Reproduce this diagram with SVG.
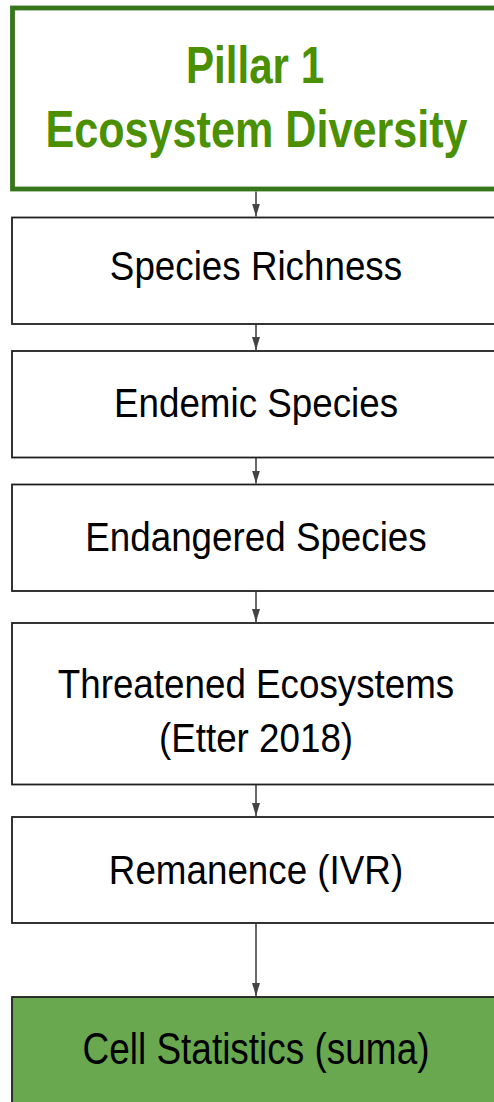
<svg xmlns="http://www.w3.org/2000/svg" width="494" height="1102" viewBox="0 0 494 1102">
<style>
.box{fill:#ffffff;stroke:#1f1f1f;stroke-width:1.8}
.lbl{font-family:"Liberation Sans",Arial,sans-serif;font-size:41px;fill:#000000;text-anchor:middle}
.ttl{font-family:"Liberation Sans",Arial,sans-serif;font-size:52px;font-weight:bold;fill:#4a9000;text-anchor:middle}
.conn{stroke:#444444;stroke-width:1.6;fill:none}
</style>
<defs>
<marker id="arr" viewBox="0 0 13 8" refX="13" refY="4" markerWidth="13" markerHeight="8" markerUnits="userSpaceOnUse" orient="auto">
<path d="M0,0 L13,4 L0,8 Z" fill="#444444"/>
</marker>
</defs>
<rect width="494" height="1102" fill="#ffffff"/>
<g id="connectors">
<line class="conn" x1="256" y1="191.5" x2="256" y2="216.5" marker-end="url(#arr)"/>
<line class="conn" x1="256" y1="324.5" x2="256" y2="350" marker-end="url(#arr)"/>
<line class="conn" x1="256" y1="458" x2="256" y2="483.5" marker-end="url(#arr)"/>
<line class="conn" x1="256" y1="591.5" x2="256" y2="622" marker-end="url(#arr)"/>
<line class="conn" x1="256" y1="785" x2="256" y2="816" marker-end="url(#arr)"/>
<line class="conn" x1="256" y1="923.5" x2="256" y2="996" marker-end="url(#arr)"/>
</g>
<g id="pillar1">
<rect x="12.5" y="8" width="500" height="181" fill="#ffffff" stroke="#38761d" stroke-width="4.8"/>
<text class="ttl" transform="translate(255,82.7) scale(0.81,1)">Pillar 1</text>
<text class="ttl" transform="translate(256.5,146.7) scale(0.83,1)">Ecosystem Diversity</text>
</g>
<g id="species-richness">
<rect class="box" x="12" y="217.5" width="500" height="106.5"/>
<text class="lbl" transform="translate(256,280) scale(0.897,1)">Species Richness</text>
</g>
<g id="endemic-species">
<rect class="box" x="12" y="351" width="500" height="106.5"/>
<text class="lbl" transform="translate(256,417) scale(0.897,1)">Endemic Species</text>
</g>
<g id="endangered-species">
<rect class="box" x="12" y="484.5" width="500" height="106.5"/>
<text class="lbl" transform="translate(256,551) scale(0.897,1)">Endangered Species</text>
</g>
<g id="threatened-ecosystems">
<rect class="box" x="12" y="623" width="500" height="161.5"/>
<text class="lbl" transform="translate(256,697.5) scale(0.897,1)">Threatened Ecosystems</text>
<text class="lbl" transform="translate(256,752) scale(0.897,1)">(Etter 2018)</text>
</g>
<g id="remanence">
<rect class="box" x="12" y="817" width="500" height="106"/>
<text class="lbl" transform="translate(256,883.5) scale(0.897,1)">Remanence (IVR)</text>
</g>
<g id="cell-statistics">
<rect class="box" x="12" y="997" width="500" height="120" style="fill:#6aa84f"/>
<text class="lbl" transform="translate(256,1063.5) scale(0.84,1)" style="font-size:44px">Cell Statistics (suma)</text>
</g>
</svg>
